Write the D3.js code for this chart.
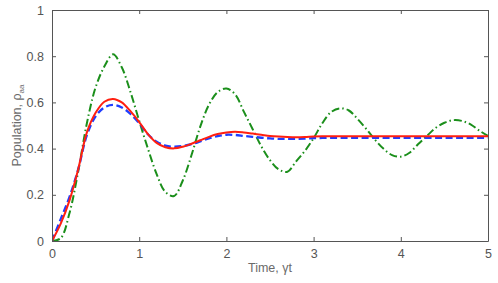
<!DOCTYPE html>
<html>
<head>
<meta charset="utf-8">
<script src="https://cdn.jsdelivr.net/npm/d3@7"></script>
<style>
    body { margin: 0; background: #fff; }
    text { font-family: "Liberation Sans", Arial, Helvetica, sans-serif; }
</style>
</head>
<body>
<div id="chart"></div>
<script>

    // time axis, gamma*t
    var times = [0.0, 0.1, 0.2, 0.3, 0.4, 0.5, 0.6, 0.7, 0.8, 0.9,
		 1.0, 1.1, 1.2, 1.3, 1.4, 1.5, 1.6, 1.7, 1.8, 1.9,
		 2.0, 2.1, 2.2, 2.3, 2.4, 2.5, 2.6, 2.7, 2.8, 2.9,
		 3.0, 3.1, 3.2, 3.3, 3.4, 3.5, 3.6, 3.7, 3.8, 3.9,
		 4.0, 4.1, 4.2, 4.3, 4.4, 4.5, 4.6, 4.7, 4.8, 4.9, 5.0];

    // red solid
    var popSolid = [0.000, 0.075, 0.175, 0.310, 0.470, 0.555, 0.603, 0.615, 0.600, 0.562,
		    0.515, 0.463, 0.425, 0.406, 0.401, 0.408, 0.421, 0.436, 0.451, 0.463,
		    0.470, 0.473, 0.470, 0.465, 0.460, 0.455, 0.452, 0.450, 0.449, 0.450,
		    0.452, 0.453, 0.453, 0.453, 0.453, 0.453, 0.453, 0.453, 0.453, 0.453,
		    0.453, 0.453, 0.453, 0.453, 0.453, 0.453, 0.453, 0.453, 0.453, 0.453, 0.453];

    // blue dashed
    var popDashed = [0.000, 0.095, 0.190, 0.310, 0.458, 0.540, 0.578, 0.589, 0.578, 0.550,
		     0.510, 0.462, 0.430, 0.413, 0.408, 0.411, 0.419, 0.431, 0.444, 0.454,
		     0.460, 0.459, 0.455, 0.451, 0.447, 0.444, 0.442, 0.442, 0.442, 0.443,
		     0.445, 0.446, 0.447, 0.447, 0.447, 0.447, 0.447, 0.447, 0.447, 0.447,
		     0.447, 0.447, 0.447, 0.447, 0.447, 0.447, 0.447, 0.447, 0.447, 0.447, 0.447];

    // green dash-dot
    var popDashDot = [0.000, 0.012, 0.120, 0.300, 0.510, 0.665, 0.755, 0.808, 0.752, 0.645,
		      0.520, 0.400, 0.290, 0.212, 0.195, 0.262, 0.372, 0.495, 0.590, 0.645,
		      0.660, 0.635, 0.560, 0.485, 0.410, 0.350, 0.310, 0.300, 0.345, 0.390,
		      0.445, 0.510, 0.558, 0.574, 0.566, 0.530, 0.487, 0.440, 0.400, 0.372,
		      0.365, 0.382, 0.420, 0.455, 0.490, 0.512, 0.523, 0.520, 0.505, 0.478, 0.455];

    var xTicks = [0, 1, 2, 3, 4, 5];
    var yTicks = [0, 0.2, 0.4, 0.6, 0.8, 1];

    var width = 498, height = 283;
    var margin = {top: 10, right: 10, bottom: 42, left: 52};

    var svg = d3.select("#chart")
	.append("svg")
	.attr("width", width)
	.attr("height", height);

    var x = d3.scaleLinear()
	.domain([0, 5])
	.range([margin.left, width - margin.right]);
    var y = d3.scaleLinear()
	.domain([0, 1])
	.range([height - margin.bottom, margin.top]);

    var axisColor = "#555";
    var labelColor = "#555";

    svg.append("defs")
	.append("clipPath")
	.attr("id", "plotclip")
	.append("rect")
	.attr("x", x(0))
	.attr("y", y(1))
	.attr("width", x(5) - x(0))
	.attr("height", y(0) - y(1));

    // series
    var series = [
	{ vals: popDashDot, color: "#1b8f1b", width: 2, dash: "8,3,1.5,3" },
	{ vals: popDashed, color: "#1f3dff", width: 2.3, dash: "7,3.5" },
	{ vals: popSolid, color: "#ff1f10", width: 2, dash: null }
    ];

    var line = function (vals) {
	return d3.line()
	    .x(function (d, i) { return x(times[i]); })
	    .y(function (d) { return y(d); })
	    .curve(d3.curveCatmullRom.alpha(0.5))(vals);
    };

    svg.append("g")
	.attr("clip-path", "url(#plotclip)")
	.selectAll("path")
	.data(series)
	.enter()
	.append("path")
	.attr("d", function (s) { return line(s.vals); })
	.attr("fill", "none")
	.attr("stroke", function (s) { return s.color; })
	.attr("stroke-width", function (s) { return s.width; })
	.attr("stroke-dasharray", function (s) { return s.dash; });

    // AXES, ticks inward on all four sides
    var styleAxis = function (g) {
	g.select(".domain").attr("stroke", axisColor);
	g.selectAll(".tick line").attr("stroke", axisColor);
	g.selectAll(".tick text")
	    .attr("fill", labelColor)
	    .style("font-size", "12.5px");
    };

    svg.append("g")
	.attr("transform", "translate(0," + y(0) + ")")
	.call(d3.axisBottom(x).tickValues(xTicks).tickSizeInner(-4).tickSizeOuter(0)
	      .tickPadding(8).tickFormat(d3.format("d")))
	.call(styleAxis);
    svg.append("g")
	.attr("transform", "translate(0," + y(1) + ")")
	.call(d3.axisTop(x).tickValues(xTicks).tickSizeInner(-4).tickSizeOuter(0)
	      .tickFormat(""))
	.call(styleAxis);
    svg.append("g")
	.attr("transform", "translate(" + x(0) + ",0)")
	.call(d3.axisLeft(y).tickValues(yTicks).tickSizeInner(-4).tickSizeOuter(0)
	      .tickPadding(8).tickFormat(function (d) { return d === 0 || d === 1 ? d : d3.format(".1f")(d); }))
	.call(styleAxis);
    svg.append("g")
	.attr("transform", "translate(" + x(5) + ",0)")
	.call(d3.axisRight(y).tickValues(yTicks).tickSizeInner(-4).tickSizeOuter(0)
	      .tickFormat(""))
	.call(styleAxis);

    // axis titles
    svg.append("text")
	.attr("x", (x(0) + x(5)) / 2)
	.attr("y", 272)
	.attr("text-anchor", "middle")
	.attr("fill", "#6a6a6a")
	.style("font-size", "12.5px")
	.text("Time, γt");

    var ylab = svg.append("text")
	.attr("transform", "translate(21," + (y(0) + y(1)) / 2 + ") rotate(-90)")
	.attr("text-anchor", "middle")
	.attr("fill", "#6a6a6a")
	.style("font-size", "12.5px");
    ylab.append("tspan").text("Population, ρ");
    ylab.append("tspan")
	.attr("dy", 3)
	.style("font-size", "8px")
	.text("aa");

</script>
</body>
</html>
